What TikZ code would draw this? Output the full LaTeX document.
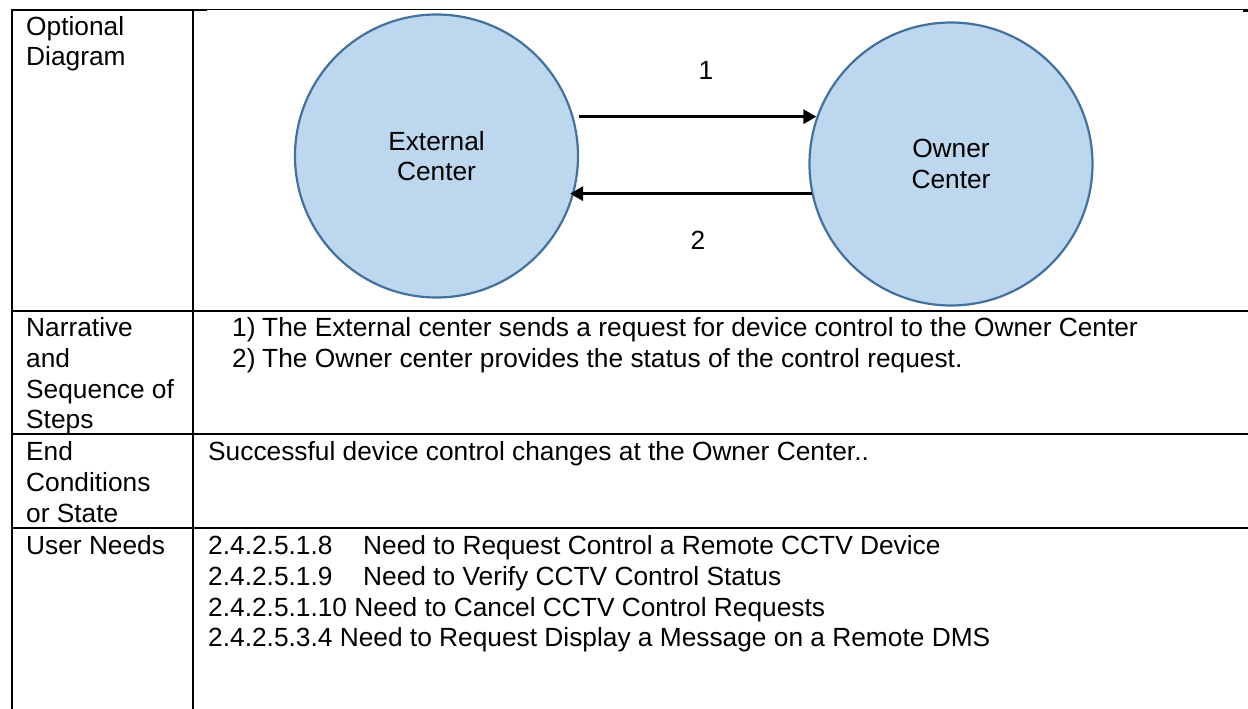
\documentclass[tikz,border=0pt]{standalone}
\usepackage{fontspec}
\setmainfont{Liberation Sans}
\usetikzlibrary{arrows.meta}
\definecolor{circfill}{RGB}{189,215,238}
\definecolor{circline}{RGB}{65,113,156}
\begin{document}
\begin{tikzpicture}[x=1pt,y=-1pt,
  every node/.style={font=\fontsize{26.3}{30.5}\selectfont, inner sep=0pt},
  rule/.style={line width=2.6pt},
  thinrule/.style={line width=1pt},
  center/.style={circle, draw=circline, line width=2.2pt, fill=circfill, minimum size=283pt, align=center},
  arr/.style={line width=3pt, -{Triangle[length=13pt,width=14pt]}},
  txt/.style={anchor=base west}]
\useasboundingbox (0,0) rectangle (1248,709);
% table rules
\draw[rule] (10.7,10) -- (207,10);
\draw[thinrule] (207,10) -- (1243,10);
\draw[rule] (1243,10.5) -- (1248,10.5);
\draw[rule] (12,8.7) -- (12,709);
\draw[rule] (193,8.7) -- (193,709);
\draw[rule] (10.7,311) -- (1248,311);
\draw[rule] (10.7,434) -- (1248,434);
\draw[rule] (10.7,528) -- (1248,528);
% circles
\node[center] (ext) at (436.5,156) {External\\Center};
\node[center] (own) at (951,164) {Owner\\Center};
\draw[arr, shorten <=5.5pt, shorten >=-8pt] (ext.16) -- (ext.16 -| own.west);
\draw[arr, shorten >=-9pt] (own.192) -- (own.192 -| ext.east);
\node (n1) at (706,70) {1};
\node (n2) at (698,240) {2};
% left column
\node[txt] (h1a) at (26,36) {Optional};
\node[txt] (h1b) at (26,66) {Diagram};
\node[txt] (h2a) at (26,336) {Narrative};
\node[txt] (h2b) at (26,367) {and};
\node[txt] (h2c) at (26,398) {Sequence of};
\node[txt] (h2d) at (26,428) {Steps};
\node[txt] (h3a) at (26,460) {End};
\node[txt] (h3b) at (26,491) {Conditions};
\node[txt] (h3c) at (26,522) {or State};
\node[txt] (h4a) at (26,554) {User Needs};
% right column
\node[txt] (s1n) at (232,336) {1)};
\node[txt] (s1t) at (262,336) {The External center sends a request for device control to the Owner Center};
\node[txt] (s2n) at (232,367) {2)};
\node[txt] (s2t) at (262,367) {The Owner center provides the status of the control request.};
\node[txt] (ec) at (208,460) {Successful device control changes at the Owner Center..};
\node[txt] (u1) at (208,554) {\makebox[155pt][l]{2.4.2.5.1.8}Need to Request Control a Remote CCTV Device};
\node[txt] (u2) at (208,585) {\makebox[155pt][l]{2.4.2.5.1.9}Need to Verify CCTV Control Status};
\node[txt] (u3) at (208,616) {2.4.2.5.1.10 Need to Cancel CCTV Control Requests};
\node[txt] (u4) at (208,646) {2.4.2.5.3.4 Need to Request Display a Message on a Remote DMS};
\end{tikzpicture}
\end{document}
